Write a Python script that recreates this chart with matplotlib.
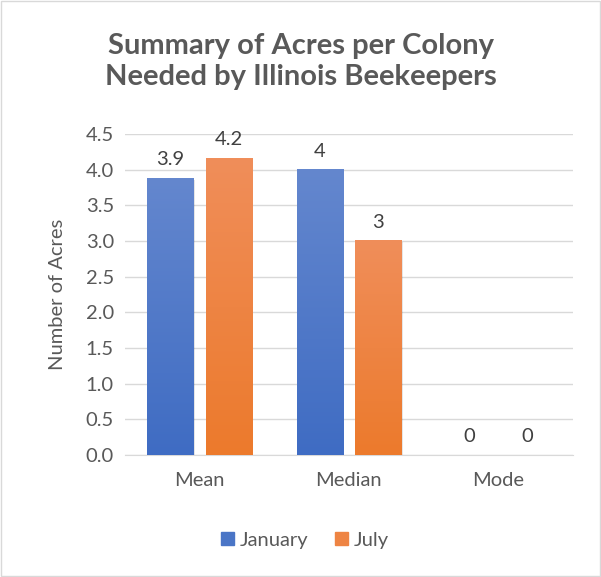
import numpy as np
import matplotlib.pyplot as plt
from matplotlib.colors import LinearSegmentedColormap
from matplotlib.patches import Rectangle

categories = ['Mean', 'Median', 'Mode']
january = [3.88, 4.0, 0.0]
july = [4.16, 3.0, 0.0]
jan_labels = ['3.9', '4', '0']
jul_labels = ['4.2', '3', '0']
series_names = ['January', 'July']

plt.rcParams['font.family'] = ['Lato', 'DejaVu Sans']

fig = plt.figure(figsize=(6.01, 5.77), dpi=100)
ax = fig.add_axes([0.208, 0.2114, 0.745, 0.5564])

x = np.arange(len(categories))
width = 0.31
off = 0.195

jan_cmap = LinearSegmentedColormap.from_list('jan', ['#3F6CC3', '#6487CE'])
jul_cmap = LinearSegmentedColormap.from_list('jul', ['#EC7A2C', '#F08E5A'])

bars_jan = ax.bar(x - off, january, width, color='#4F79C8', zorder=2)
bars_jul = ax.bar(x + off, july, width, color='#EE8443', zorder=2)

grad = np.linspace(0, 1, 256).reshape(-1, 1)
for bars, cmap in [(bars_jan, jan_cmap), (bars_jul, jul_cmap)]:
    for b in bars:
        bx, by = b.get_x(), b.get_y()
        bw, bh = b.get_width(), b.get_height()
        if bh <= 0:
            continue
        # soft shadow
        ax.add_patch(Rectangle((bx + 0.01, by), bw, bh - 0.02, color='#000000',
                               alpha=0.10, zorder=1.5, lw=0))
        ax.imshow(grad, extent=(bx, bx + bw, by, by + bh), origin='lower',
                  cmap=cmap, aspect='auto', zorder=3)

for bars, labels in [(bars_jan, jan_labels), (bars_jul, jul_labels)]:
    for b, lab in zip(bars, labels):
        ax.text(b.get_x() + b.get_width() / 2, b.get_height() + 0.14, lab,
                ha='center', va='bottom', fontsize=14.5, color='#404040', zorder=4)

ax.set_xlim(-0.5, 2.5)
ax.set_ylim(0, 4.5)
ax.set_yticks(np.arange(0, 4.51, 0.5))
ax.set_yticklabels([f'{v:.1f}' for v in np.arange(0, 4.51, 0.5)])
ax.set_xticks(x)
ax.set_xticklabels(categories)
ax.tick_params(axis='both', length=0, labelsize=14.5, colors='#595959', pad=8)
ax.tick_params(axis='x', pad=12)
ax.yaxis.grid(True, color='#D9D9D9', linewidth=1, zorder=0)
ax.set_axisbelow(True)
for s in ['top', 'right', 'left']:
    ax.spines[s].set_visible(False)
ax.spines['bottom'].set_color('#D9D9D9')
ax.set_ylabel('Number of Acres', fontsize=14.5, color='#595959', labelpad=14)

fig.text(0.5, 0.893, 'Summary of Acres per Colony\nNeeded by Illinois Beekeepers',
         ha='center', va='center', fontsize=21, fontweight='bold', color='#595959',
         linespacing=1.25)

handles = [Rectangle((0, 0), 1, 1, color='#4A75C6'), Rectangle((0, 0), 1, 1, color='#EE8443')]
fig.legend(handles, series_names, loc='center', bbox_to_anchor=(0.507, 0.064), ncol=2,
           frameon=False, fontsize=14.5, handlelength=0.65, handleheight=0.65,
           handletextpad=0.3, columnspacing=1.3, labelcolor='#595959')

fig.patches.append(Rectangle((0.002, 0.002), 0.996, 0.996, transform=fig.transFigure,
                             fill=False, edgecolor='#D9D9D9', linewidth=1))

fig.savefig('out.png', dpi=100)
